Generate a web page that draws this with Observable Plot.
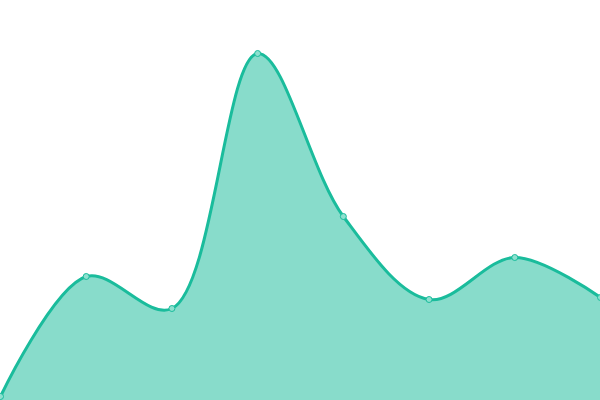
<!DOCTYPE html>
<html><head><meta charset="utf-8">
<script src="https://cdn.jsdelivr.net/npm/d3@7"></script>
<script src="https://cdn.jsdelivr.net/npm/@observablehq/plot@0.6"></script>
<style>html,body{margin:0;padding:0;background:#fff;overflow:hidden}</style>
</head><body>
<div id="chart"></div>
<script>
const xs = [0, 1, 2, 3, 4, 5, 6, 7];
const values = [4, 124, 92, 347, 184, 101, 143, 103];
const data = xs.map((x, i) => ({x, y: values[i]}));
const chart = Plot.plot({
  width: 600, height: 400,
  margin: 0,
  x: {domain: [0, 7], axis: null},
  y: {domain: [0, 400], axis: null},
  marks: [
    Plot.areaY(data, {x: "x", y: "y", curve: "catmull-rom", fill: "#1abc9c", fillOpacity: 0.52}),
    Plot.lineY(data, {x: "x", y: "y", curve: "catmull-rom", stroke: "#1abc9c", strokeWidth: 3}),
    Plot.dot(data, {x: "x", y: "y", r: 3, fill: "#8ee0cf", stroke: "#1abc9c", strokeWidth: 1})
  ]
});
document.getElementById("chart").appendChild(chart);
</script>
</body></html>
